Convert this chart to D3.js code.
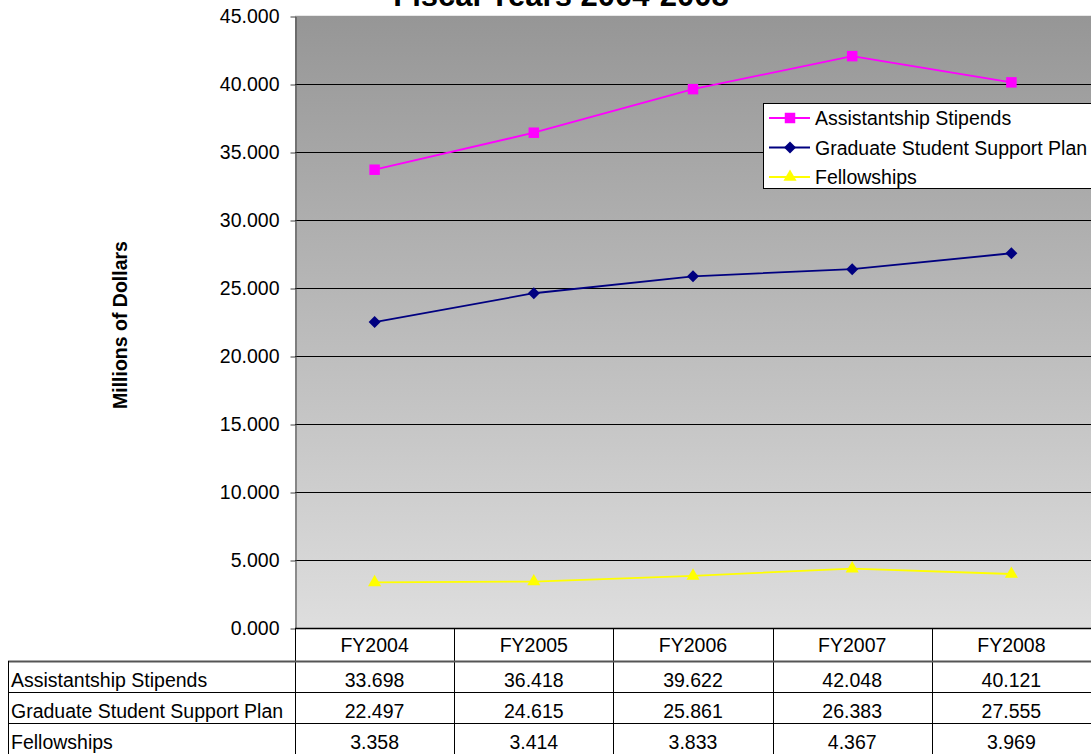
<!DOCTYPE html>
<html><head><meta charset="utf-8">
<script src="https://cdn.jsdelivr.net/npm/d3@7"></script>
<style>
html,body{margin:0;padding:0;background:#fff;}
svg{display:block;font-family:Arial,"Liberation Sans",sans-serif;}
</style></head>
<body>
<svg id="chart" width="1091" height="754"></svg>
<script>
const categories = ["FY2004","FY2005","FY2006","FY2007","FY2008"];
const seriesNames = ["Assistantship Stipends","Graduate Student Support Plan","Fellowships"];
const assistantship = [33.698,36.418,39.622,42.048,40.121];
const gssp = [22.497,24.615,25.861,26.383,27.555];
const fellowships = [3.358,3.414,3.833,4.367,3.969];
const yTicks = [0,5,10,15,20,25,30,35,40,45];
const title = "Fiscal Years 2004-2008";
const yTitle = "Millions of Dollars";

const FS = "19.5px";
const diamond = { draw(ctx, size) { const r = Math.sqrt(size/2); ctx.moveTo(0,-r); ctx.lineTo(r,0); ctx.lineTo(0,r); ctx.lineTo(-r,0); ctx.closePath(); } };

const series = [
  {name: seriesNames[0], values: assistantship, color: "#FF00FF", symbol: d3.symbolSquare, size: 110},
  {name: seriesNames[1], values: gssp, color: "#000080", symbol: diamond, size: 72},
  {name: seriesNames[2], values: fellowships, color: "#FFFF00", symbol: d3.symbolTriangle, size: 75}
];

const svg = d3.select("#chart");
const L = 295, R = 1091, T = 16, B = 628;
const x = d3.scaleBand().domain(categories).range([L, R]).padding(0);
const y = d3.scaleLinear().domain([0,45]).range([B, T]);

const defs = svg.append("defs");
const grad = defs.append("linearGradient").attr("id","bg").attr("x1",0).attr("y1",0).attr("x2",0).attr("y2",1);
grad.append("stop").attr("offset","0%").attr("stop-color","#969696");
grad.append("stop").attr("offset","100%").attr("stop-color","#dedede");

svg.append("rect").attr("x",L).attr("y",T).attr("width",R-L).attr("height",B-T).attr("fill","url(#bg)");
svg.append("line").attr("x1",L).attr("x2",R).attr("y1",T-0.5).attr("y2",T-0.5).attr("stroke","#e8e8e8");

// gridlines
svg.append("g").selectAll("line").data(yTicks.filter(t=>t>0 && t<45)).join("line")
  .attr("x1",L).attr("x2",R).attr("y1",d=>Math.round(y(d))+0.5).attr("y2",d=>Math.round(y(d))+0.5)
  .attr("stroke","#000").attr("stroke-width",1);

// y axis
const yAxis = d3.axisLeft(y).tickValues(yTicks).tickFormat(d3.format(".3f")).tickSizeInner(5).tickSizeOuter(0).tickPadding(11);
const ga = svg.append("g").attr("transform",`translate(${L+0.5},0.5)`).call(yAxis);
ga.select(".domain").attr("stroke","#404040");
ga.selectAll(".tick line").attr("stroke","#404040");
ga.selectAll("text").attr("font-size",FS).attr("fill","#000").attr("font-family","Arial,'Liberation Sans',sans-serif");

// baseline
svg.append("line").attr("x1",L).attr("x2",R).attr("y1",B+0.5).attr("y2",B+0.5).attr("stroke","#000").attr("stroke-width",1.5);

// titles
svg.append("text").attr("x",561).attr("y",6).attr("text-anchor","middle").attr("font-size","31px").attr("font-weight","bold").text(title);
svg.append("text").attr("transform","translate(127,325) rotate(-90)").attr("text-anchor","middle").attr("font-size","19.5px").attr("font-weight","bold").text(yTitle);

// lines
const cx = d => x(d) + x.bandwidth()/2;
series.forEach(s => {
  const line = d3.line().x((v,i)=>cx(categories[i])).y(v=>y(v));
  svg.append("path").datum(s.values).attr("d",line).attr("fill","none").attr("stroke",s.color).attr("stroke-width",1.8);
  svg.append("g").selectAll("path").data(s.values).join("path")
    .attr("transform",(v,i)=>`translate(${cx(categories[i])},${y(v)})`)
    .attr("d",d3.symbol().type(s.symbol).size(s.size)).attr("fill",s.color);
});

// legend
const lg = svg.append("g");
lg.append("rect").attr("x",763.5).attr("y",103.5).attr("width",340).attr("height",85).attr("fill","#fff").attr("stroke","#000");
series.forEach((s,i) => {
  const yy = 118 + i*29.5;
  lg.append("line").attr("x1",769).attr("x2",810).attr("y1",yy).attr("y2",yy).attr("stroke",s.color).attr("stroke-width",1.8);
  lg.append("path").attr("transform",`translate(790,${yy})`).attr("d",d3.symbol().type(s.symbol).size(s.size)).attr("fill",s.color);
  lg.append("text").attr("x",815).attr("y",yy+7).attr("font-size",FS).text(s.name);
});

// data table
const tbl = svg.append("g");
const rowTops = [661, 692, 723, 754];
const tcol = "#000";
categories.forEach((c,i) => {
  const xx = Math.round(x(c)) + 0.5;
  tbl.append("line").attr("x1",xx).attr("x2",xx).attr("y1",B).attr("y2",754).attr("stroke",tcol);
  tbl.append("text").attr("x",cx(c)).attr("y",652).attr("text-anchor","middle").attr("font-size",FS).text(c);
});
rowTops.forEach(t => {
  tbl.append("line").attr("x1",8).attr("x2",R).attr("y1",t+0.5).attr("y2",t+0.5).attr("stroke",t===661?"#555":tcol).attr("stroke-width", t===661?1.8:1);
});
tbl.append("line").attr("x1",8.5).attr("x2",8.5).attr("y1",661).attr("y2",754).attr("stroke",tcol);
series.forEach((s,r) => {
  const yy = rowTops[r] + 26;
  tbl.append("text").attr("x",11).attr("y",yy).attr("font-size",FS).text(s.name);
  s.values.forEach((v,i) => {
    tbl.append("text").attr("x",cx(categories[i])).attr("y",yy).attr("text-anchor","middle").attr("font-size",FS).text(d3.format(".3f")(v));
  });
});
</script>
</body></html>
